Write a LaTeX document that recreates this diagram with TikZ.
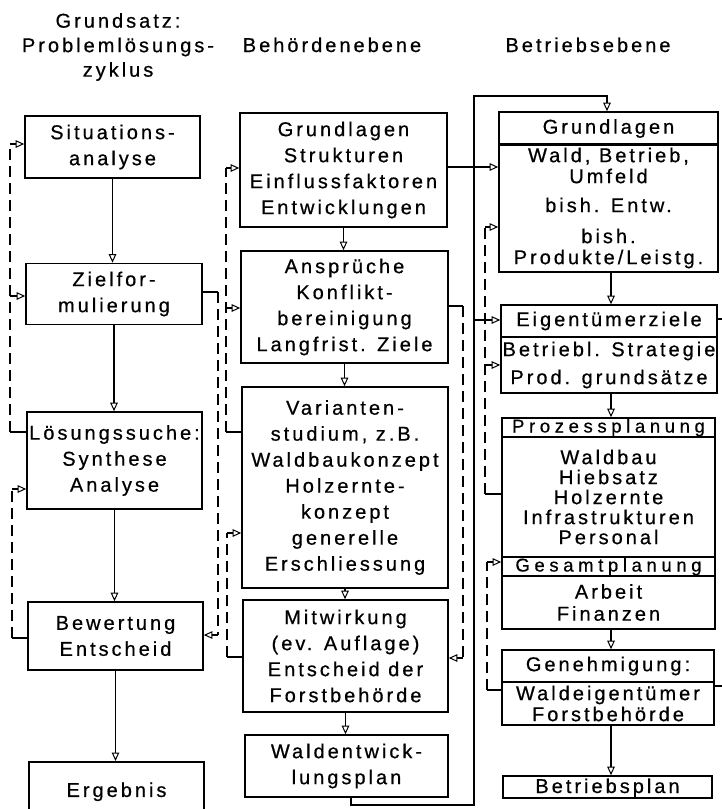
\documentclass[tikz,border=0pt]{standalone}
\usepackage{fontspec}
\setmainfont{Liberation Sans}[LetterSpace=15, FakeBold=0.6]
\usetikzlibrary{arrows.meta}
\begin{document}
\begin{tikzpicture}[x=1pt,y=-1pt,
  box/.style={draw, line width=1.6pt, inner sep=0pt, align=center,
    font=\fontsize{20}{26}\selectfont},
  slim/.style={font=\fontsize{18.5}{19}\selectfont\addfontfeature{LetterSpace=25},
    text height=14.5pt, text depth=4.5pt},
  hdr/.style={inner sep=0pt, align=center, font=\fontsize{20}{24.5}\selectfont},
  arr/.style={-{Triangle[open,length=8.5pt,width=7.5pt,line width=1pt]}, line width=1.2pt},
  link/.style={line width=1.2pt},
  fb/.style={line width=1.2pt, dash pattern=on 11pt off 6pt},
]
\useasboundingbox (0,0) rectangle (722,809);

% column headings
\node[hdr] (h1) at (118,47) {Grundsatz:\\Problemlösungs-\\zyklus};
\node[hdr, anchor=base] (h2) at (332,52) {Behördenebene};
\node[hdr, anchor=base] (h3) at (588,52) {Betriebsebene};

% problem-solving cycle
\node[box, minimum width=175pt, minimum height=62pt] (sit) at (112.5,147) {Situations-\\analyse};
\node[box, minimum width=176pt, minimum height=61pt] (ziel) at (114,294) {Zielfor-\\mulierung};
\node[box, minimum width=175pt, minimum height=97pt] (loes) at (114.5,460.5) {Lösungssuche:\\Synthese\\Analyse};
\node[box, minimum width=175pt, minimum height=68pt] (bew) at (115.5,636) {Bewertung\\Entscheid};
\node[box, minimum width=175pt, minimum height=60pt, anchor=north] (erg) at (116.5,761) {Ergebnis};

% authority level
\node[box, minimum width=207pt, minimum height=114pt] (mg) at (343.5,170) {Grundlagen\\Strukturen\\Einflussfaktoren\\Entwicklungen};
\node[box, minimum width=207pt, minimum height=112pt] (ma) at (344.5,307) {Ansprüche\\Konflikt-\\bereinigung\\Langfrist. Ziele};
\node[box, minimum width=206pt, minimum height=201pt] (mv) at (345,487.5) {Varianten-\\studium, z.B.\\Waldbaukonzept\\Holzernte-\\konzept\\generelle\\Erschliessung};
\node[box, minimum width=205pt, minimum height=112pt] (mm) at (345.5,656) {Mitwirkung\\(ev. Auflage)\\Entscheid der\\Forstbehörde};
\node[box, minimum width=203pt, minimum height=62pt] (mw) at (346.5,766) {Waldentwick-\\lungsplan};

% enterprise level
\node[box, minimum width=219pt, minimum height=33pt] (rgh) at (608.5,128.5) {Grundlagen};
\node[box, minimum width=219pt, minimum height=128pt] (rgb) at (608.5,208) {Wald, Betrieb,\\[-5pt]Umfeld\\[3pt]bish. Entw.\\[5pt]bish.\\[-5pt]Produkte/Leistg.};
\node[box, minimum width=216pt, minimum height=32pt] (reh) at (609,321) {Eigentümerziele};
\node[box, minimum width=216pt, minimum height=56pt, font=\fontsize{20}{28}\selectfont] (reb) at (609,365) {Betriebl. Strategie\\Prod. grundsätze};
\node[box, slim, minimum width=213pt, minimum height=19pt] (rph) at (608.5,427.5) {Prozessplanung};
\node[box, minimum width=213pt, minimum height=120pt, font=\fontsize{20}{20}\selectfont] (rpb) at (608.5,497) {Waldbau\\Hiebsatz\\Holzernte\\Infrastrukturen\\Personal};
\node[box, slim, minimum width=213pt, minimum height=19pt] (gsh) at (608.5,566.5) {Gesamtplanung};
\node[box, minimum width=213pt, minimum height=53pt, font=\fontsize{20}{22}\selectfont] (gsb) at (608.5,602.5) {Arbeit\\Finanzen};
\node[box, minimum width=212pt, minimum height=32pt] (gnh) at (608,666) {Genehmigung:};
\node[box, minimum width=212pt, minimum height=43pt, font=\fontsize{20}{21}\selectfont] (gnb) at (608,703.5) {Waldeigentümer\\Forstbehörde};
\node[box, minimum width=209pt, minimum height=22pt, text height=14pt, text depth=2pt] (bp) at (607.5,787) {Betriebsplan};

% main flow, cycle
\draw[arr] (sit.south) -- (sit.south |- ziel.north);
\draw[arr] (ziel.south) -- (ziel.south |- loes.north);
\draw[arr] (loes.south) -- (loes.south |- bew.north);
\draw[arr] (bew.south) -- (bew.south |- erg.north);

% main flow, authority level
\draw[arr] (mg.south) -- (mg.south |- ma.north);
\draw[arr] (ma.south) -- (ma.south |- mv.north);
\draw[arr] (mv.south) -- (mv.south |- mm.north);
\draw[arr] (mm.south) -- (mm.south |- mw.north);

% main flow, enterprise level
\coordinate (xr) at (611,0);
\draw[arr] (xr |- rgb.south) -- (xr |- reh.north);
\draw[arr] (xr |- reb.south) -- (xr |- rph.north);
\draw[arr] (xr |- gsb.south) -- (xr |- gnh.north);
\draw[arr] (xr |- gnb.south) -- (xr |- bp.north);

% feedback loops, cycle
\coordinate (fa) at (10,432);
\coordinate (fa1) at (10,296);
\coordinate (fa2) at (10,144);
\draw[link] (loes.west |- fa) -- (fa);
\draw[fb] (fa) -- (fa2);
\draw[arr] (fa2) -- (sit.west |- fa2);
\draw[arr] (fa1) -- (ziel.west |- fa1);

\coordinate (fb0) at (12,638);
\coordinate (fb1) at (12,489);
\draw[link] (bew.west |- fb0) -- (fb0);
\draw[fb] (fb0) -- (fb1);
\draw[arr] (fb1) -- (loes.west |- fb1);

\coordinate (fc0) at (218,292);
\coordinate (fc1) at (218,635);
\draw[link] (ziel.east |- fc0) -- (fc0);
\draw[fb] (fc0) -- (fc1);
\draw[arr] (fc1) -- (bew.east |- fc1);

% feedback loops, authority level
\coordinate (fd0) at (226,432);
\coordinate (fd1) at (226,308);
\coordinate (fd2) at (226,168);
\draw[link] (mv.west |- fd0) -- (fd0);
\draw[fb] (fd0) -- (fd2);
\draw[arr] (fd2) -- (mg.west |- fd2);
\draw[arr] (fd1) -- (ma.west |- fd1);

\coordinate (fe0) at (227,657);
\coordinate (fe1) at (227,533);
\draw[link] (mm.west |- fe0) -- (fe0);
\draw[fb] (fe0) -- (fe1);
\draw[arr] (fe1) -- (mv.west |- fe1);

\coordinate (ff0) at (463,306);
\coordinate (ff1) at (463,658);
\draw[link] (ma.east |- ff0) -- (ff0);
\draw[fb] (ff0) -- (ff1);
\draw[arr] (ff1) -- (mm.east |- ff1);

% links between the levels
\coordinate (g0) at (0,167);
\draw[arr] (mg.east |- g0) -- (rgb.west |- g0);
\coordinate (w1) at (351,805);
\coordinate (w2) at (474,805);
\coordinate (w3) at (474,96);
\coordinate (w4) at (607,96);
\coordinate (w5) at (474,320);
\draw[arr] (mw.south -| w1) -- (w1) -- (w2) -- (w3) -- (w4) -- (w4 |- rgh.north);
\draw[arr] (w5) -- (reh.west |- w5);

% feedback loops, enterprise level
\coordinate (fg0) at (485,494);
\coordinate (fg1) at (485,365);
\coordinate (fg2) at (485,227);
\draw[link] (rpb.west |- fg0) -- (fg0);
\draw[fb] (fg0) -- (fg2);
\draw[arr] (fg2) -- (rgb.west |- fg2);
\draw[arr] (fg1) -- (reb.west |- fg1);

\coordinate (fh0) at (487,690);
\coordinate (fh1) at (487,562);
\draw[link] (gnb.west |- fh0) -- (fh0);
\draw[fb] (fh0) -- (fh1);
\draw[arr] (fh1) -- (gsh.west |- fh1);

% lines leaving to the right
\coordinate (e1) at (722,319);
\coordinate (e2) at (722,686);
\draw[link] (reh.east |- e1) -- (e1);
\draw[link] (gnb.east |- e2) -- (e2);
\end{tikzpicture}
\end{document}
